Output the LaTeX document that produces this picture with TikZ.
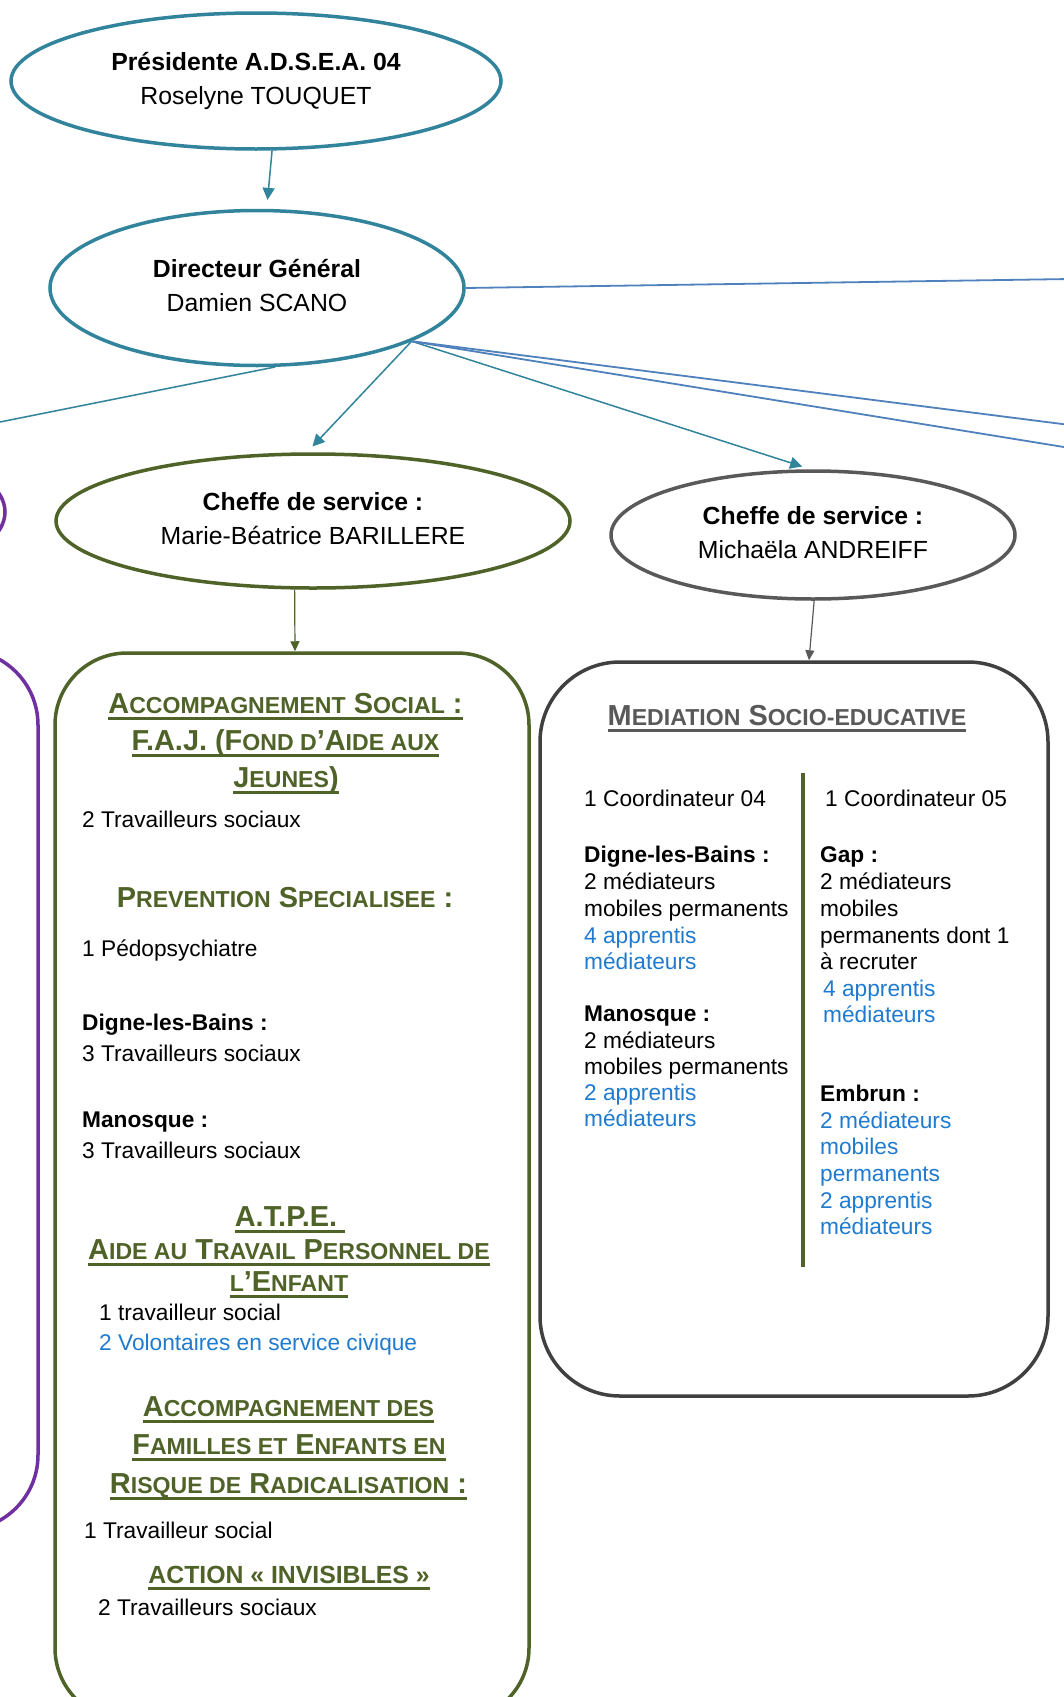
\documentclass[tikz,border=0pt]{standalone}
\usepackage{fontspec}
\setmainfont{Liberation Sans}
\usetikzlibrary{shapes.geometric,arrows.meta}
\definecolor{teal1}{HTML}{31849B}
\definecolor{olive1}{HTML}{4F6228}
\definecolor{gray1}{HTML}{595959}
\definecolor{gray2}{HTML}{404040}
\definecolor{purple1}{HTML}{7030A0}
\definecolor{blueline}{HTML}{4F81BD}
\definecolor{bluetext}{HTML}{1F7BD0}
\newcommand\fbody{\fontsize{22.7pt}{26.7pt}\selectfont}
\newcommand\fell{\fontsize{24.8pt}{34pt}\selectfont}
\newcommand\fhead{\fontsize{28.9pt}{37pt}\selectfont\bfseries}
\newcommand\fact{\fontsize{24.8pt}{30pt}\selectfont\bfseries}
\newcommand\sm[1]{{\fontsize{23.1pt}{37pt}\selectfont #1}}
\newcommand\ulx[1]{\setbox0\hbox{#1}\rlap{\rule[-6.5pt]{\wd0}{2.6pt}}\box0}
\begin{document}
\begin{tikzpicture}[x=1pt,y=-1pt,
  ell/.style={ellipse, inner sep=0pt, align=center, font=\fell, line width=3.5pt, text depth=5.2pt},
  conn/.style={line width=1.5pt, -{Triangle[length=12pt,width=12pt]}},
  sconn/.style={line width=1.2pt, -{Triangle[length=10pt,width=9pt]}},
  body/.style={anchor=base west, inner sep=0pt, font=\fbody},
  bbody/.style={anchor=base west, inner sep=0pt, font=\fbody\bfseries},
  head/.style={anchor=base, inner sep=0pt, font=\fhead, text=olive1},
  blu/.style={text=bluetext},
  bline/.style={blueline, line width=1.8pt},
  ]
\useasboundingbox (0,0) rectangle (1064,1697);
\fill[white] (0,0) rectangle (1064,1697);

% partial purple shapes at the left edge
\node[ell, draw=purple1, minimum width=440pt, minimum height=160pt] (pell) at (-215,512) {};
\node[draw=purple1, line width=3.5pt, rounded corners=75pt, minimum width=438pt, minimum height=880pt, inner sep=0pt] (pbox) at (-181,1090) {};

% ellipses
\node[ell, draw=teal1, minimum width=490pt, minimum height=136pt] (pres) at (256,81) {\textbf{Présidente A.D.S.E.A. 04}\\Roselyne TOUQUET};
\node[ell, draw=teal1, minimum width=414pt, minimum height=155pt] (dir) at (257,288) {\textbf{Directeur Général}\\Damien SCANO};
\node[ell, draw=olive1, minimum width=514pt, minimum height=134pt] (c1) at (313,521) {\textbf{Cheffe de service :}\\Marie-Béatrice BARILLERE};
\node[ell, draw=gray1, minimum width=404pt, minimum height=128pt] (c2) at (813,535) {\textbf{Cheffe de service :}\\Michaëla ANDREIFF};

% boxes
\node[draw=olive1, line width=3.5pt, rounded corners=72pt, minimum width=474pt, minimum height=1067pt, inner sep=0pt] (gbox) at (292,1186.5) {};
\node[draw=gray2, line width=3.5pt, rounded corners=80pt, minimum width=508pt, minimum height=734pt, inner sep=0pt] (mbox) at (794,1029) {};

% free ends
\coordinate (eR) at (1070,279);
\coordinate (eR2) at (1070,425);
\coordinate (eR3) at (1070,448);
\coordinate (eL) at (-5,423);

% connectors
\draw[conn, teal1, shorten >=9pt] (pres.-77) -- (dir.83);
\draw[conn, teal1, shorten >=8pt] (dir.-19) -- (c1.95);
\draw[conn, teal1, shorten >=9pt] (dir.-19) -- (c2.92);
\draw[bline] (dir.east) -- (eR);
\draw[bline] (dir.-19) -- (eR2);
\draw[bline] (dir.-19) -- (eR3);
\draw[teal1, line width=1.5pt] (dir.-77) -- (eL);
\draw[sconn, olive1] (c1.-105) -- ([xshift=3pt]gbox.north);
\draw[sconn, gray1] (c2.-89) -- ([xshift=15pt]mbox.north);

% green box content
\node[head] (h1a) at (285.5,713.5) {\ulx{A\sm{CCOMPAGNEMENT} S\sm{OCIAL} :}};
\node[head] (h1b) at (285.5,750.5) {\ulx{F.A.J. (F\sm{OND D}’A\sm{IDE AUX}}};
\node[head] (h1c) at (286,787.5) {\ulx{J\sm{EUNES})}};
\node[body] (g1) at (82,827) {2 Travailleurs sociaux};
\node[head] (h2) at (285,907.5) {P\sm{REVENTION} S\sm{PECIALISEE} :};
\node[body] (g2) at (82,956) {1 Pédopsychiatre};
\node[bbody] (g3) at (82,1030) {Digne-les-Bains :};
\node[body] (g4) at (82,1061) {3 Travailleurs sociaux};
\node[bbody] (g5) at (82,1127) {Manosque :};
\node[body] (g6) at (82,1158) {3 Travailleurs sociaux};
\node[head] (h3a) at (290,1226) {\ulx{A.T.P.E. }};
\node[head] (h3b) at (289,1259.5) {\ulx{A\sm{IDE AU} T\sm{RAVAIL} P\sm{ERSONNEL DE}}};
\node[head] (h3c) at (289,1291.5) {\ulx{\sm{L}’E\sm{NFANT}}};
\node[body] (g7) at (99,1320) {1 travailleur social};
\node[body, blu] (g8) at (99,1350) {2 Volontaires en service civique};
\node[head] (h4a) at (288.5,1416.5) {\ulx{A\sm{CCOMPAGNEMENT DES}}};
\node[head] (h4b) at (289,1454.5) {\ulx{F\sm{AMILLES ET} E\sm{NFANTS EN}}};
\node[head] (h4c) at (288.5,1493.5) {\ulx{R\sm{ISQUE DE} R\sm{ADICALISATION} :}};
\node[body] (g9) at (84,1538) {1 Travailleur social};
\node[head, font=\fact] (h5) at (289,1583) {\ulx{ACTION « INVISIBLES »}};
\node[body] (g10) at (98,1615) {2 Travailleurs sociaux};

% mediation box content
\node[head, text=gray1] (mh) at (787,725.5) {\ulx{M\sm{EDIATION} S\sm{OCIO-EDUCATIVE}}};
\draw[olive1, line width=4.5pt] (803,773) -- (803,1267);
\node[body] (m1) at (584,806) {1 Coordinateur 04};
\node[bbody] (m2) at (584,862) {Digne-les-Bains :};
\node[body] (m3) at (584,889) {2 médiateurs};
\node[body] (m4) at (584,916) {mobiles permanents};
\node[body, blu] (m5) at (584,943) {4 apprentis};
\node[body, blu] (m6) at (584,969) {médiateurs};
\node[bbody] (m7) at (584,1021) {Manosque :};
\node[body] (m8) at (584,1048) {2 médiateurs};
\node[body] (m9) at (584,1074) {mobiles permanents};
\node[body, blu] (m10) at (584,1100) {2 apprentis};
\node[body, blu] (m11) at (584,1126) {médiateurs};
\node[body] (n1) at (825,806) {1 Coordinateur 05};
\node[bbody] (n2) at (820,862) {Gap :};
\node[body] (n3) at (820,889) {2 médiateurs};
\node[body] (n4) at (820,916) {mobiles};
\node[body] (n5) at (820,943) {permanents dont 1};
\node[body] (n6) at (820,969) {à recruter};
\node[body, blu] (n7) at (823,996) {4 apprentis};
\node[body, blu] (n8) at (823,1022) {médiateurs};
\node[bbody] (n9) at (820,1101) {Embrun :};
\node[body, blu] (n10) at (820,1128) {2 médiateurs};
\node[body, blu] (n11) at (820,1154) {mobiles};
\node[body, blu] (n12) at (820,1181) {permanents};
\node[body, blu] (n13) at (820,1208) {2 apprentis};
\node[body, blu] (n14) at (820,1234) {médiateurs};
\end{tikzpicture}
\end{document}
